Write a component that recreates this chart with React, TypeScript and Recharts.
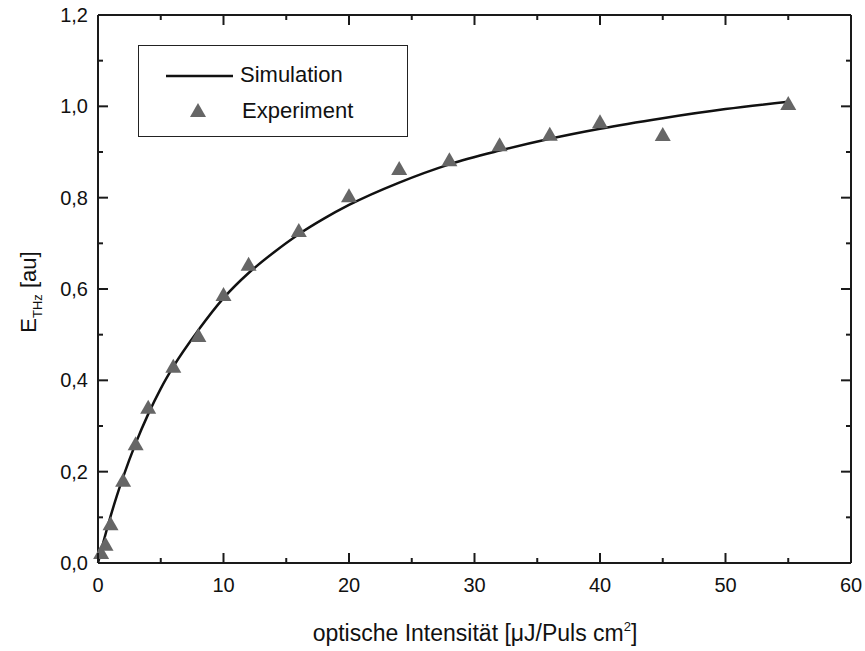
import { ComposedChart, Line, Scatter, XAxis, YAxis } from 'recharts';

const simX = [0, 0.25, 0.5, 1, 1.5, 2, 3, 4, 5, 6, 8, 10, 12, 14, 16, 18, 20, 24, 28, 32, 36, 40, 45, 50, 55];
const simY = [0, 0.027, 0.053, 0.102, 0.147, 0.188, 0.262, 0.326, 0.382, 0.43, 0.51, 0.58, 0.635, 0.68, 0.72, 0.754, 0.784, 0.833, 0.873, 0.903, 0.929, 0.951, 0.974, 0.994, 1.01];

const expX = [0.25, 0.6, 1, 2, 3, 4, 6, 8, 10, 12, 16, 20, 24, 28, 32, 36, 40, 45, 55];
const expY = [0.022, 0.04, 0.085, 0.18, 0.26, 0.34, 0.43, 0.497, 0.587, 0.653, 0.727, 0.803, 0.863, 0.882, 0.915, 0.938, 0.965, 0.937, 1.005];

const xTicks = [0, 5, 10, 15, 20, 25, 30, 35, 40, 45, 50, 55, 60];
const yTicks = [0, 0.1, 0.2, 0.3, 0.4, 0.5, 0.6, 0.7, 0.8, 0.9, 1.0, 1.1, 1.2];

const simData = simX.map((x, i) => ({ x, y: simY[i] }));
const expData = expX.map((x, i) => ({ x, y: expY[i] }));

const FONT = '"Liberation Sans", Arial, sans-serif';
const AXIS = '#1a1a1a';

const isMajorX = (v: number) => v % 10 === 0;
const isMajorY = (v: number) => Math.round(v * 10) % 2 === 0;

// ticks point inward on all four sides, long for labelled values, short in between
const BottomTick = (props: any) => {
  const { x, y, payload } = props;
  const major = isMajorX(payload.value);
  const len = major ? 10 : 5;
  return (
    <g>
      <path d={`M${x},${y}V${y - len}`} stroke={AXIS} strokeWidth={2} fill="none" />
      {major && (
        <text x={x} y={y + 29} textAnchor="middle" fontSize={20} fontFamily={FONT} fill="#111">
          {payload.value}
        </text>
      )}
    </g>
  );
};

const TopTick = (props: any) => {
  const { x, y, payload } = props;
  const len = isMajorX(payload.value) ? 10 : 5;
  return <path d={`M${x},${y}V${y + len}`} stroke={AXIS} strokeWidth={2} fill="none" />;
};

const LeftTick = (props: any) => {
  const { x, y, payload } = props;
  const major = isMajorY(payload.value);
  const len = major ? 10 : 5;
  return (
    <g>
      <path d={`M${x},${y}H${x + len}`} stroke={AXIS} strokeWidth={2} fill="none" />
      {major && (
        <text x={x - 10} y={y + 7} textAnchor="end" fontSize={20} fontFamily={FONT} fill="#111">
          {payload.value.toFixed(1).replace('.', ',')}
        </text>
      )}
    </g>
  );
};

const RightTick = (props: any) => {
  const { x, y, payload } = props;
  const len = isMajorY(payload.value) ? 10 : 5;
  return <path d={`M${x},${y}H${x - len}`} stroke={AXIS} strokeWidth={2} fill="none" />;
};

const Triangle = (props: any) => {
  const { cx, cy } = props;
  if (cx == null || cy == null) return null;
  return <polygon points={`${cx},${cy - 8} ${cx - 8},${cy + 6} ${cx + 8},${cy + 6}`} fill="#666" />;
};

const LegendBox = () => (
  <div
    style={{
      position: 'absolute',
      left: 138,
      top: 45,
      width: 268,
      height: 90,
      border: '1.5px solid #222',
      background: 'white',
      fontFamily: FONT,
      fontSize: 22,
      color: '#111',
    }}
  >
    <svg width={100} height={90} style={{ position: 'absolute', left: 0, top: 0 }}>
      <line x1={27} x2={94} y1={30} y2={30} stroke="#111" strokeWidth={2.5} />
      <polygon points="59,57 51,71 67,71" fill="#666" />
    </svg>
    <div style={{ position: 'absolute', left: 101, top: 16 }}>Simulation</div>
    <div style={{ position: 'absolute', left: 103, top: 52 }}>Experiment</div>
  </div>
);

export default function App() {
  return (
    <div style={{ position: 'absolute', left: 0, top: 0, width: 865, height: 651, background: 'white' }}>
      <ComposedChart width={865} height={651} margin={{ top: 14, right: 13, left: 38, bottom: 28 }}>
        <XAxis
          dataKey="x"
          type="number"
          domain={[0, 60]}
          ticks={xTicks}
          interval={0}
          height={60}
          tickSize={0}
          tickMargin={0}
          tickLine={false}
          axisLine={{ stroke: AXIS, strokeWidth: 2 }}
          tick={BottomTick}
          label={{
            content: () => (
              <text x={475} y={641} textAnchor="middle" fontSize={23} fontFamily={FONT} fill="#111">
                optische Intensität [μJ/Puls cm
                <tspan dy={-10} fontSize={13}>2</tspan>
                <tspan dy={10}>]</tspan>
              </text>
            ),
          }}
        />
        <XAxis
          xAxisId="top"
          dataKey="x"
          orientation="top"
          type="number"
          domain={[0, 60]}
          ticks={xTicks}
          interval={0}
          height={1}
          tickSize={0}
          tickMargin={0}
          tickLine={false}
          axisLine={{ stroke: AXIS, strokeWidth: 2 }}
          tick={TopTick}
        />
        <YAxis
          type="number"
          domain={[0, 1.2]}
          ticks={yTicks}
          interval={0}
          width={60}
          tickSize={0}
          tickMargin={0}
          tickLine={false}
          axisLine={{ stroke: AXIS, strokeWidth: 2 }}
          tick={LeftTick}
          label={{
            content: () => (
              <text
                x={0}
                y={0}
                transform="translate(36, 292) rotate(-90)"
                textAnchor="middle"
                fontSize={22}
                fontFamily={FONT}
                fill="#111"
              >
                E
                <tspan dy={6} fontSize={13}>THz</tspan>
                <tspan dy={-6}> [au]</tspan>
              </text>
            ),
          }}
        />
        <YAxis
          yAxisId="right"
          orientation="right"
          type="number"
          domain={[0, 1.2]}
          ticks={yTicks}
          interval={0}
          width={1}
          tickSize={0}
          tickMargin={0}
          tickLine={false}
          axisLine={{ stroke: AXIS, strokeWidth: 2 }}
          tick={RightTick}
        />
        {/* invisible series so the top and right frame axes get drawn */}
        <Line
          xAxisId="top"
          yAxisId="right"
          data={simData}
          dataKey="y"
          stroke="none"
          dot={false}
          legendType="none"
          isAnimationActive={false}
        />
        <Line
          data={simData}
          dataKey="y"
          type="monotone"
          stroke="#111"
          strokeWidth={2.5}
          dot={false}
          isAnimationActive={false}
          name="Simulation"
        />
        <Scatter
          data={expData}
          dataKey="y"
          shape={Triangle}
          isAnimationActive={false}
          name="Experiment"
        />
      </ComposedChart>
      <LegendBox />
    </div>
  );
}
